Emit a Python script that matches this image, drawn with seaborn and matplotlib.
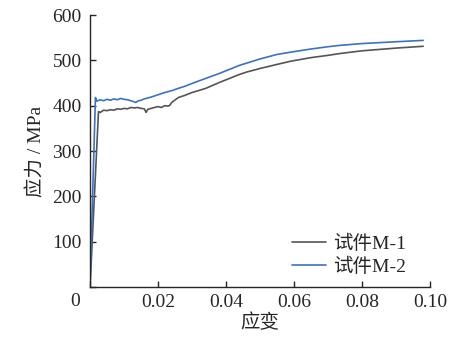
import matplotlib
matplotlib.use("Agg")
import matplotlib.pyplot as plt
import pandas as pd
import seaborn as sns

# specimen M-1 (grey)
strain_m1 = [0, 0.0025, 0.003, 0.004, 0.005, 0.006, 0.007, 0.008, 0.009, 0.010,
             0.011, 0.012, 0.013, 0.014, 0.015, 0.016, 0.0165, 0.017, 0.018, 0.019,
             0.020, 0.021, 0.022, 0.023, 0.0235, 0.024, 0.026, 0.028, 0.030, 0.034,
             0.038, 0.040, 0.044, 0.046, 0.050, 0.055, 0.059, 0.065, 0.070, 0.0735,
             0.080, 0.085, 0.090, 0.098]
stress_m1 = [0, 387, 385, 390, 389, 391, 390, 393, 392, 394,
             393, 396, 395, 396, 394, 393, 385, 392, 394, 396,
             398, 396, 400, 399, 401, 407, 418, 423, 429, 438,
             451, 457, 469, 474, 482, 491, 498, 506, 511, 515,
             521, 524, 527, 531]

# specimen M-2 (blue)
strain_m2 = [0, 0.0016, 0.002, 0.003, 0.004, 0.005, 0.006, 0.007, 0.008, 0.009,
             0.010, 0.011, 0.012, 0.0135, 0.014, 0.015, 0.016, 0.018, 0.020, 0.022,
             0.024, 0.0259, 0.028, 0.030, 0.034, 0.038, 0.044, 0.050, 0.055, 0.059,
             0.065, 0.070, 0.0735, 0.080, 0.085, 0.090, 0.098]
stress_m2 = [0, 418, 410, 413, 411, 414, 412, 415, 413, 416,
             414, 413, 411, 407, 410, 412, 415, 419, 424, 429,
             433, 438, 443, 449, 460, 471, 489, 503, 513, 518,
             525, 530, 533, 537, 539, 541, 544]

labels = ["试件M-1", "试件M-2"]
x_ticks = [0, 0.02, 0.04, 0.06, 0.08, 0.10]
x_tick_labels = ["", "0.02", "0.04", "0.06", "0.08", "0.10"]
y_ticks = [0, 100, 200, 300, 400, 500, 600]
y_tick_labels = ["", "100", "200", "300", "400", "500", "600"]

df = pd.concat([
    pd.DataFrame({"strain": strain_m1, "stress": stress_m1, "specimen": labels[0]}),
    pd.DataFrame({"strain": strain_m2, "stress": stress_m2, "specimen": labels[1]}),
])

sns.set_style("ticks")
plt.rcParams["font.family"] = ["Liberation Serif", "Noto Sans CJK SC"]
plt.rcParams["font.size"] = 14

fig = plt.figure(figsize=(4.56, 3.44), dpi=100)
ax = fig.add_axes([90 / 456, 57 / 344, 340 / 456, 272 / 344])

sns.lineplot(data=df, x="strain", y="stress", hue="specimen", estimator=None,
             palette={labels[0]: "#555555", labels[1]: "#3a72c6"},
             linewidth=1.2, ax=ax)

ax.set_xlim(0, 0.10)
ax.set_ylim(0, 600)
ax.set_xticks(x_ticks)
ax.set_xticklabels(x_tick_labels)
ax.set_yticks(y_ticks)
ax.set_yticklabels(y_tick_labels)
ax.tick_params(direction="in", length=4, width=1, labelsize=14)
ax.tick_params(axis="y", pad=6)
ax.tick_params(axis="x", pad=5)
sns.despine(ax=ax)
for s in ["left", "bottom"]:
    ax.spines[s].set_linewidth(1)

ax.text(-0.045, -0.055, "0", transform=ax.transAxes, ha="center", va="center", fontsize=14)
ax.set_xlabel("应变", fontsize=14, labelpad=2)
ax.set_ylabel("应力 / MPa", fontsize=14, labelpad=5)

ax.legend(title=None, frameon=False, loc="upper left", bbox_to_anchor=(0.571, 0.222),
          handlelength=1.75, handletextpad=0.35, labelspacing=0.25, fontsize=14,
          borderaxespad=0)

fig.savefig("out.png", dpi=100)
plt.close("all")
